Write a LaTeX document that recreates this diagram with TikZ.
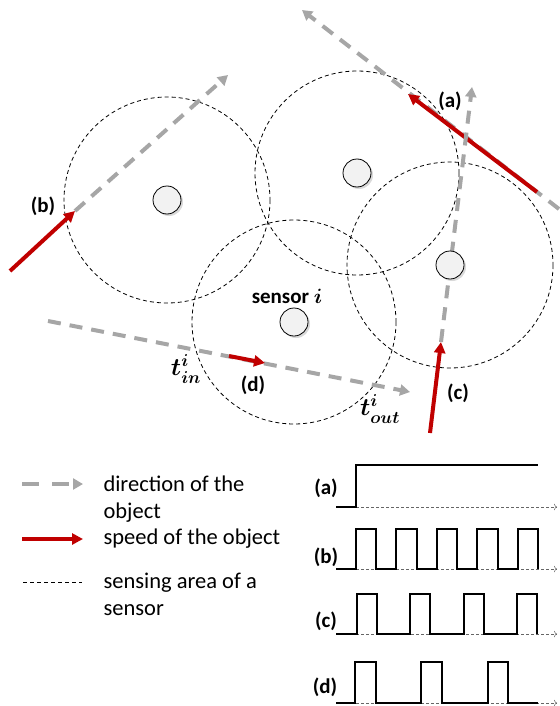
\documentclass[tikz,border=0pt]{standalone}
\usepackage{amsmath,amssymb,bm}
\usepackage{fontspec}
\setmainfont{Carlito}
\usepackage{xcolor}
\usepackage{tikz}
\usetikzlibrary{arrows.meta,positioning,shadows}
\definecolor{dirGray}{HTML}{A6A6A6}
\definecolor{speedRed}{HTML}{C00000}
\definecolor{sensorFill}{HTML}{F2F2F2}

\begin{document}
\begin{tikzpicture}[x=1pt, y=-1pt,
        sensor/.style={circle, draw, line width=0.8pt, fill=sensorFill, minimum size=28pt, inner sep=0pt,
                       drop shadow={shadow xshift=2pt, shadow yshift=-2pt, opacity=0.3}},
        area/.style={draw, line width=0.8pt, dash pattern=on 4pt off 3pt},
        dirarr/.style={-{Triangle[length=10pt,width=11pt]}, line width=4pt, dirGray, dash pattern=on 13pt off 9pt},
        spdarr/.style={-{Triangle[length=11pt,width=11pt]}, line width=4pt, speedRed},
        lbl/.style={font=\fontsize{21}{25}\selectfont\bfseries},
        mth/.style={font=\fontsize{24}{28}\selectfont\boldmath},
        legtxt/.style={font=\fontsize{22.5}{27}\selectfont, align=left, anchor=west},
        wave/.style={line width=1.3pt},
        axis/.style={-{To[length=3pt]}, black!60, line width=0.6pt, dash pattern=on 3pt off 2pt},
    ]
    \useasboundingbox (0,0) rectangle (559,706);

    % sensor positions
    \coordinate (p1) at (167,200);
    \coordinate (p2) at (357,173);
    \coordinate (p3) at (450,265);
    \coordinate (p4) at (294,322);

    % sensing areas
    \draw[area] (p1) circle[radius=103];
    \draw[area] (p2) circle[radius=102];
    \draw[area] (p3) circle[radius=103];
    \draw[area] (p4) circle[radius=102];

    % object (a)
    \coordinate (a0) at (559,209);
    \coordinate (a1) at (537,192);
    \coordinate (a2) at (302,10);
    \coordinate (a3) at (408,94);
    \draw[dirarr] (a0) -- (a2);
    \draw[spdarr] (a1) -- (a3);

    % object (b)
    \coordinate (b0) at (10,271);
    \coordinate (b1) at (75,211);
    \coordinate (b2) at (228,75);
    \draw[dirarr] (b1) -- (b2);
    \draw[spdarr] (b0) -- (b1);

    % object (c)
    \coordinate (c0) at (430,433);
    \coordinate (c1) at (441,342);
    \coordinate (c2) at (472,87);
    \draw[dirarr] (c1) -- (c2);
    \draw[spdarr] (c0) -- (c1);

    % object (d)
    \coordinate (d0) at (48,321);
    \coordinate (d1) at (229,356);
    \coordinate (d2) at (265,363);
    \coordinate (d3) at (410,392);
    \draw[dirarr] (d0) -- (d3);
    \draw[spdarr] (d1) -- (d2);

    % sensors
    \node[sensor] (s1) at (p1) {};
    \node[sensor] (s2) at (p2) {};
    \node[sensor] (s3) at (p3) {};
    \node[sensor] (s4) at (p4) {};

    \node[lbl] (si) at (287,296) {sensor {\boldmath$i$}};
    \node[lbl] (la) at (450,101) {(a)};
    \node[lbl] (lb) at (43,206) {(b)};
    \node[lbl] (lc) at (458,393) {(c)};
    \node[lbl] (ld) at (253,385) {(d)};
    \node[mth] (tin) at (186,369) {$t^{i}_{in}$};
    \node[mth] (tout) at (380,409) {$t^{i}_{out}$};

    % legend
    \coordinate (g0) at (22,484);
    \coordinate (g1) at (83,484);
    \draw[dirarr, dash pattern=on 17pt off 13pt] (g0) -- (g1);
    \node[legtxt] (tdir) at (100,499) {direction of the\\object};
    \coordinate (r0) at (22,539);
    \coordinate (r1) at (83,539);
    \draw[spdarr] (r0) -- (r1);
    \node[legtxt] (tspd) at (100,539) {speed of the object};
    \coordinate (k0) at (23,582);
    \coordinate (k1) at (82,582);
    \draw[area] (k0) -- (k1);
    \node[legtxt] (tarea) at (100,594) {sensing area of a\\sensor};

    % sensor outputs
    \node[lbl] (wa) at (326,488) {(a)};
    \node[lbl] (wb) at (326,557) {(b)};
    \node[lbl] (wc) at (326,621) {(c)};
    \node[lbl] (wd) at (325,687) {(d)};

    \coordinate (xa0) at (336,507);
    \coordinate (xa1) at (557,507);
    \coordinate (xb0) at (336,569);
    \coordinate (xb1) at (557,569);
    \coordinate (xc0) at (336,634);
    \coordinate (xc1) at (557,634);
    \coordinate (xd0) at (336,703);
    \coordinate (xd1) at (557,703);
    \draw[axis] (xa0) -- (xa1);
    \draw[axis] (xb0) -- (xb1);
    \draw[axis] (xc0) -- (xc1);
    \draw[axis] (xd0) -- (xd1);

    \draw[wave] (xa0) -- (356,507) -- (356,465) -- (538,465);
    \draw[wave] (xb0) -- (356,569) -- (356,529) -- (376,529) -- (376,569)
        -- (396,569) -- (396,529) -- (417,529) -- (417,569)
        -- (437,569) -- (437,529) -- (457,529) -- (457,569)
        -- (477,569) -- (477,529) -- (498,529) -- (498,569)
        -- (518,569) -- (518,529) -- (538,529) -- (538,569);
    \draw[wave] (xc0) -- (357,634) -- (357,594) -- (377,594) -- (377,634)
        -- (410,634) -- (410,594) -- (430,594) -- (430,634)
        -- (464,634) -- (464,594) -- (484,594) -- (484,634)
        -- (517,634) -- (517,594) -- (537,594) -- (537,634);
    \draw[wave] (xd0) -- (355,703) -- (355,662) -- (376,662) -- (376,703)
        -- (421,703) -- (421,662) -- (442,662) -- (442,703)
        -- (488,703) -- (488,662) -- (508,662) -- (508,703) -- (538,703);
\end{tikzpicture}
\end{document}
